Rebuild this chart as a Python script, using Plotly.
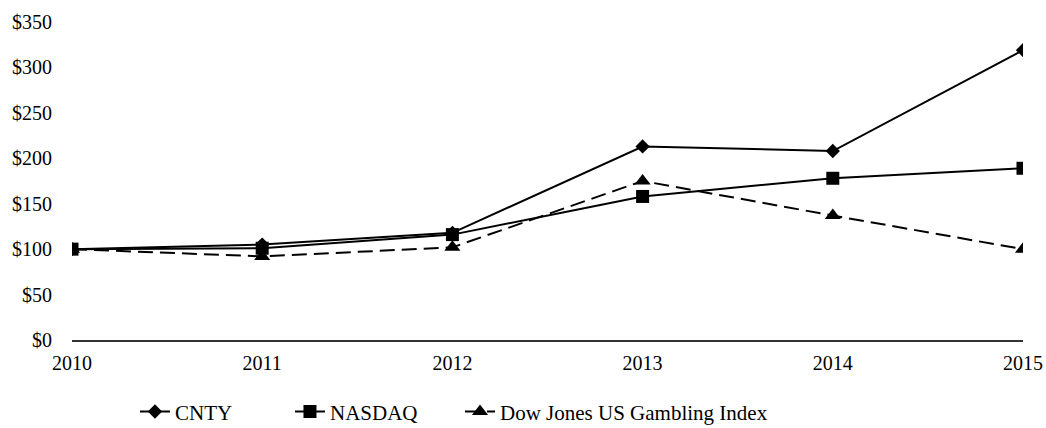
import plotly.graph_objects as go

years = [2010, 2011, 2012, 2013, 2014, 2015]
cnty = [100, 105, 118, 213, 208, 319]
nasdaq = [100, 101, 116, 158, 178, 189]
dowjones = [100, 92, 102, 175, 137, 100]
y_ticks = [0, 50, 100, 150, 200, 250, 300, 350]
y_labels = ["$" + str(v) for v in y_ticks]

fig = go.Figure()
fig.add_trace(go.Scatter(x=years, y=cnty, name="CNTY", mode="lines+markers",
                         line=dict(color="black", width=2), legend="legend",
                         marker=dict(symbol="diamond", size=11, color="black")))
fig.add_trace(go.Scatter(x=years, y=nasdaq, name="NASDAQ", mode="lines+markers",
                         line=dict(color="black", width=2), legend="legend2",
                         marker=dict(symbol="square", size=13, color="black")))
fig.add_trace(go.Scatter(x=years, y=dowjones, name="Dow Jones US Gambling Index", mode="lines+markers",
                         line=dict(color="black", width=2, dash="15px,7px"), legend="legend3",
                         marker=dict(symbol="triangle-up", size=14, color="black")))

leg_common = dict(orientation="h", xanchor="left", y=-0.226, yanchor="middle",
                  font=dict(size=21), bgcolor="rgba(0,0,0,0)")

fig.update_layout(
    width=1046, height=428,
    margin=dict(l=72, r=23, t=22, b=88, autoexpand=False),
    plot_bgcolor="white", paper_bgcolor="white",
    font=dict(family="Liberation Serif", size=20, color="black"),
    showlegend=True,
    legend=dict(x=0.0662, **leg_common),
    legend2=dict(x=0.2292, **leg_common),
    legend3=dict(x=0.408, **leg_common),
    xaxis=dict(range=[2010, 2015], tickvals=years, ticktext=[str(y) for y in years],
               showgrid=False, zeroline=False, showline=True, linecolor="#333333", linewidth=1.5,
               ticks="", ticklen=0, ticklabelstandoff=4),
    yaxis=dict(range=[0, 350], tickvals=y_ticks, ticktext=y_labels,
               showgrid=False, zeroline=False, showline=False, ticks="", ticklabelstandoff=19),
)
fig.write_html("out.html", config={"displayModeBar": False},
               post_script="document.body.style.margin='0';document.body.style.overflow='hidden';")
